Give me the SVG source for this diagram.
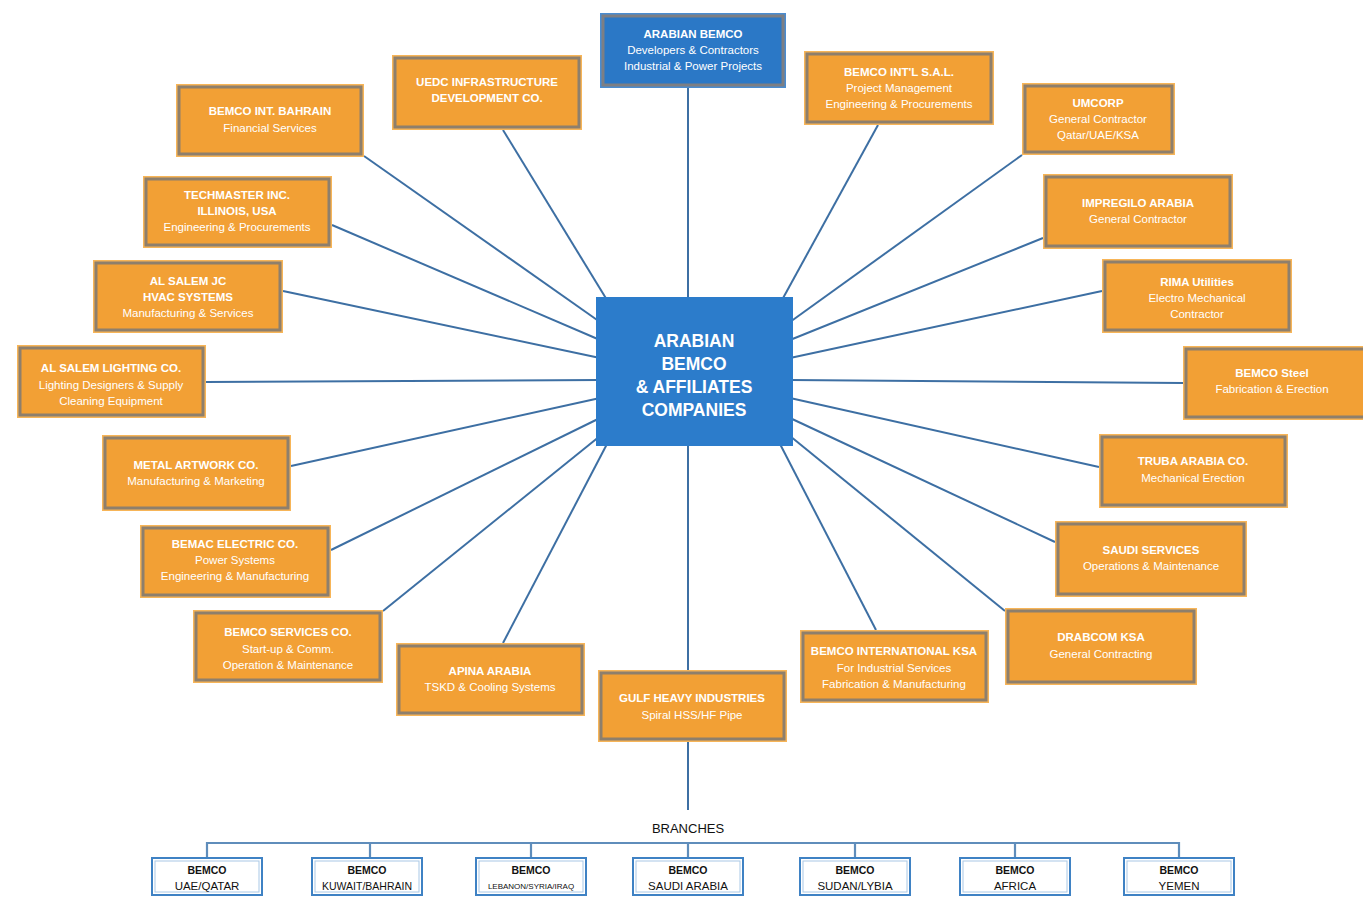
<svg xmlns="http://www.w3.org/2000/svg" width="1363" height="898" viewBox="0 0 1363 898">
<style>
.bg{fill:#ffffff}
.oo{fill:#F7B558}
.oi{fill:#F2A035;stroke:#8E7F6C;stroke-width:3}
.bo{fill:#4A8CD0}
.bi{fill:#2B78C6;stroke:#7D7F84;stroke-width:3}
.ctr{fill:#2C7CCB}
.ln{stroke:#3D6FA3;stroke-width:2;fill:none}
.bl{stroke:#5F8DBB;stroke-width:2.2;fill:none}
.br{fill:#ffffff;stroke:#3F82C4;stroke-width:2}
.bri{fill:none;stroke:#A9C8E6;stroke-width:1}
text{font-family:"Liberation Sans",Arial,sans-serif;text-anchor:middle}
.t{font-size:11.5px;font-weight:bold;fill:#ffffff}
.s{font-size:11.5px;fill:#ffffff}
.c{font-size:17.5px;font-weight:bold;fill:#ffffff}
.k{font-size:10.5px;font-weight:bold;fill:#111111}
.ks{font-size:11.5px;fill:#111111}
.h{font-size:13px;fill:#111111}
</style>
<rect class="bg" x="0" y="0" width="1363" height="898"/>

<g id="connectors">
<path class="ln" d="M688,88V297"/>
<path class="ln" d="M364,156L600,322"/>
<path class="ln" d="M503,130L607,300"/>
<path class="ln" d="M878,125L782,300"/>
<path class="ln" d="M1022,155L790,322"/>
<path class="ln" d="M1043,238L790,340"/>
<path class="ln" d="M1102,291L790,358"/>
<path class="ln" d="M1183,383L790,380"/>
<path class="ln" d="M1099,467L790,398"/>
<path class="ln" d="M1055,542L790,418"/>
<path class="ln" d="M1005,611L790,436"/>
<path class="ln" d="M876,630L780,444"/>
<path class="ln" d="M688,446V670"/>
<path class="ln" d="M503,643L607,444"/>
<path class="ln" d="M383,611L600,436"/>
<path class="ln" d="M331,550L600,418"/>
<path class="ln" d="M291,466L600,398"/>
<path class="ln" d="M206,382L600,380"/>
<path class="ln" d="M283,291L600,358"/>
<path class="ln" d="M332,225L600,340"/>
<path class="ln" d="M688,742V810"/>
<path class="bl" d="M207,843H1179M207,842V858M370,842V858M531,842V858M688,842V858M855,842V858M1015,842V858M1179,842V858"/>
</g>

<g id="center">
<rect class="ctr" x="596" y="297" width="197" height="149"/>
<text class="c" x="694" y="347">ARABIAN</text>
<text class="c" x="694" y="370">BEMCO</text>
<text class="c" x="694" y="393">&amp; AFFILIATES</text>
<text class="c" x="694" y="416">COMPANIES</text>
</g>

<g id="arabian-bemco">
<rect class="bo" x="600" y="13" width="186" height="75"/>
<rect class="bi" x="603" y="16" width="180" height="69"/>
<text class="t" x="693" y="38">ARABIAN BEMCO</text>
<text class="s" x="693" y="54">Developers &amp; Contractors</text>
<text class="s" x="693" y="70">Industrial &amp; Power Projects</text>
</g>

<g id="uedc">
<rect class="oo" x="392" y="55" width="190" height="75"/>
<rect class="oi" x="395" y="58" width="184" height="69"/>
<text class="t" x="487" y="86">UEDC INFRASTRUCTURE</text>
<text class="t" x="487" y="102">DEVELOPMENT CO.</text>
</g>

<g id="bemco-intl-sal">
<rect class="oo" x="804" y="51" width="190" height="74"/>
<rect class="oi" x="807" y="54" width="184" height="68"/>
<text class="t" x="899" y="76">BEMCO INT'L S.A.L.</text>
<text class="s" x="899" y="92">Project Management</text>
<text class="s" x="899" y="108">Engineering &amp; Procurements</text>
</g>

<g id="umcorp">
<rect class="oo" x="1022" y="83" width="153" height="72"/>
<rect class="oi" x="1025" y="86" width="147" height="66"/>
<text class="t" x="1098" y="107">UMCORP</text>
<text class="s" x="1098" y="123">General Contractor</text>
<text class="s" x="1098" y="139">Qatar/UAE/KSA</text>
</g>

<g id="bemco-bahrain">
<rect class="oo" x="176" y="84" width="188" height="73"/>
<rect class="oi" x="179" y="87" width="182" height="67"/>
<text class="t" x="270" y="115">BEMCO INT. BAHRAIN</text>
<text class="s" x="270" y="132">Financial Services</text>
</g>

<g id="techmaster">
<rect class="oo" x="143" y="176" width="189" height="72"/>
<rect class="oi" x="146" y="179" width="183" height="66"/>
<text class="t" x="237" y="199">TECHMASTER INC.</text>
<text class="t" x="237" y="215">ILLINOIS, USA</text>
<text class="s" x="237" y="231">Engineering &amp; Procurements</text>
</g>

<g id="impregilo">
<rect class="oo" x="1043" y="174" width="190" height="75"/>
<rect class="oi" x="1046" y="177" width="184" height="69"/>
<text class="t" x="1138" y="207">IMPREGILO ARABIA</text>
<text class="s" x="1138" y="223">General Contractor</text>
</g>

<g id="al-salem-jc">
<rect class="oo" x="93" y="260" width="190" height="73"/>
<rect class="oi" x="96" y="263" width="184" height="67"/>
<text class="t" x="188" y="285">AL SALEM JC</text>
<text class="t" x="188" y="301">HVAC SYSTEMS</text>
<text class="s" x="188" y="317">Manufacturing &amp; Services</text>
</g>

<g id="rima">
<rect class="oo" x="1102" y="259" width="190" height="74"/>
<rect class="oi" x="1105" y="262" width="184" height="68"/>
<text class="t" x="1197" y="286">RIMA Utilities</text>
<text class="s" x="1197" y="302">Electro Mechanical</text>
<text class="s" x="1197" y="318">Contractor</text>
</g>

<g id="al-salem-lighting">
<rect class="oo" x="17" y="345" width="189" height="73"/>
<rect class="oi" x="20" y="348" width="183" height="67"/>
<text class="t" x="111" y="372">AL SALEM LIGHTING CO.</text>
<text class="s" x="111" y="389">Lighting Designers &amp; Supply</text>
<text class="s" x="111" y="405">Cleaning Equipment</text>
</g>

<g id="bemco-steel">
<rect class="oo" x="1183" y="346" width="186" height="74"/>
<rect class="oi" x="1186" y="349" width="180" height="68"/>
<text class="t" x="1272" y="377">BEMCO Steel</text>
<text class="s" x="1272" y="393">Fabrication &amp; Erection</text>
</g>

<g id="truba">
<rect class="oo" x="1099" y="434" width="189" height="74"/>
<rect class="oi" x="1102" y="437" width="183" height="68"/>
<text class="t" x="1193" y="465">TRUBA ARABIA CO.</text>
<text class="s" x="1193" y="482">Mechanical Erection</text>
</g>

<g id="metal-artwork">
<rect class="oo" x="102" y="435" width="189" height="76"/>
<rect class="oi" x="105" y="438" width="183" height="70"/>
<text class="t" x="196" y="469">METAL ARTWORK CO.</text>
<text class="s" x="196" y="485">Manufacturing &amp; Marketing</text>
</g>

<g id="saudi-services">
<rect class="oo" x="1055" y="521" width="192" height="76"/>
<rect class="oi" x="1058" y="524" width="186" height="70"/>
<text class="t" x="1151" y="554">SAUDI SERVICES</text>
<text class="s" x="1151" y="570">Operations &amp; Maintenance</text>
</g>

<g id="bemac-electric">
<rect class="oo" x="140" y="525" width="191" height="73"/>
<rect class="oi" x="143" y="528" width="185" height="67"/>
<text class="t" x="235" y="548">BEMAC ELECTRIC CO.</text>
<text class="s" x="235" y="564">Power Systems</text>
<text class="s" x="235" y="580">Engineering &amp; Manufacturing</text>
</g>

<g id="drabcom">
<rect class="oo" x="1005" y="608" width="192" height="77"/>
<rect class="oi" x="1008" y="611" width="186" height="71"/>
<text class="t" x="1101" y="641">DRABCOM KSA</text>
<text class="s" x="1101" y="658">General Contracting</text>
</g>

<g id="bemco-services">
<rect class="oo" x="193" y="610" width="190" height="73"/>
<rect class="oi" x="196" y="613" width="184" height="67"/>
<text class="t" x="288" y="636">BEMCO SERVICES CO.</text>
<text class="s" x="288" y="653">Start-up &amp; Comm.</text>
<text class="s" x="288" y="669">Operation &amp; Maintenance</text>
</g>

<g id="bemco-intl-ksa">
<rect class="oo" x="800" y="630" width="189" height="73"/>
<rect class="oi" x="803" y="633" width="183" height="67"/>
<text class="t" x="894" y="655">BEMCO INTERNATIONAL KSA</text>
<text class="s" x="894" y="672">For Industrial Services</text>
<text class="s" x="894" y="688">Fabrication &amp; Manufacturing</text>
</g>

<g id="apina">
<rect class="oo" x="396" y="643" width="189" height="73"/>
<rect class="oi" x="399" y="646" width="183" height="67"/>
<text class="t" x="490" y="675">APINA ARABIA</text>
<text class="s" x="490" y="691">TSKD &amp; Cooling Systems</text>
</g>

<g id="gulf-heavy">
<rect class="oo" x="598" y="670" width="189" height="72"/>
<rect class="oi" x="601" y="673" width="183" height="66"/>
<text class="t" x="692" y="702">GULF HEAVY INDUSTRIES</text>
<text class="s" x="692" y="719">Spiral HSS/HF Pipe</text>
</g>

<g id="branches-label">
<text class="h" x="688" y="833">BRANCHES</text>
</g>

<g id="br-uae">
<rect class="br" x="152" y="858" width="110" height="37"/>
<rect class="bri" x="155" y="861" width="104" height="31"/>
<text class="k" x="207" y="874">BEMCO</text>
<text class="ks" x="207" y="890">UAE/QATAR</text>
</g>
<g id="br-kuwait">
<rect class="br" x="312" y="858" width="110" height="37"/>
<rect class="bri" x="315" y="861" width="104" height="31"/>
<text class="k" x="367" y="874">BEMCO</text>
<text class="ks" x="367" y="890" style="font-size:10.5px">KUWAIT/BAHRAIN</text>
</g>
<g id="br-lebanon">
<rect class="br" x="476" y="858" width="110" height="37"/>
<rect class="bri" x="479" y="861" width="104" height="31"/>
<text class="k" x="531" y="874">BEMCO</text>
<text class="ks" x="531" y="889" style="font-size:8px">LEBANON/SYRIA/IRAQ</text>
</g>
<g id="br-saudi">
<rect class="br" x="633" y="858" width="110" height="37"/>
<rect class="bri" x="636" y="861" width="104" height="31"/>
<text class="k" x="688" y="874">BEMCO</text>
<text class="ks" x="688" y="890">SAUDI ARABIA</text>
</g>
<g id="br-sudan">
<rect class="br" x="800" y="858" width="110" height="37"/>
<rect class="bri" x="803" y="861" width="104" height="31"/>
<text class="k" x="855" y="874">BEMCO</text>
<text class="ks" x="855" y="890">SUDAN/LYBIA</text>
</g>
<g id="br-africa">
<rect class="br" x="960" y="858" width="110" height="37"/>
<rect class="bri" x="963" y="861" width="104" height="31"/>
<text class="k" x="1015" y="874">BEMCO</text>
<text class="ks" x="1015" y="890">AFRICA</text>
</g>
<g id="br-yemen">
<rect class="br" x="1124" y="858" width="110" height="37"/>
<rect class="bri" x="1127" y="861" width="104" height="31"/>
<text class="k" x="1179" y="874">BEMCO</text>
<text class="ks" x="1179" y="890">YEMEN</text>
</g>
</svg>
